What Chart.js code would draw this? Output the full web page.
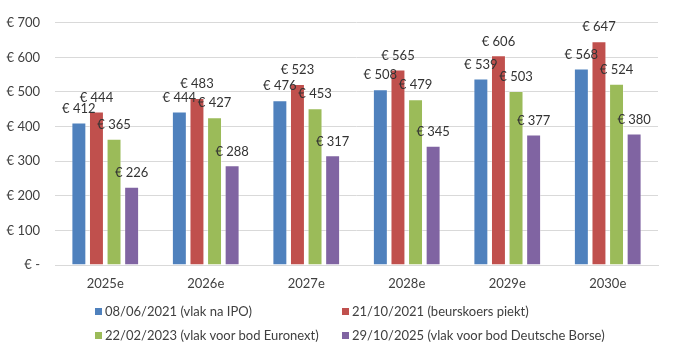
<!DOCTYPE html>
<html>
<head>
<meta charset="utf-8">
<script src="https://cdn.jsdelivr.net/npm/chart.js@4"></script>
<style>
  body { margin: 0; background: #fff; }
  #wrap { position: relative; width: 674px; height: 353px; }
  #legend { position: absolute; left: 0; top: 0; width: 674px; height: 353px; pointer-events: none;
            font-family: Lato, "Noto Sans", sans-serif; font-size: 13px; color: #404040; }
  .item { position: absolute; white-space: nowrap; line-height: 16px; }
  .item span.box { display: inline-block; width: 7px; height: 7px; margin-right: 3px; vertical-align: 1px; }
</style>
</head>
<body>
<div id="wrap">
  <canvas id="myChart" width="674" height="353"></canvas>
  <div id="legend"></div>
</div>
<script>
// categories and series
const years = ['2025e', '2026e', '2027e', '2028e', '2029e', '2030e'];
const seriesNames = [
  '08/06/2021 (vlak na IPO)',
  '21/10/2021 (beurskoers piekt)',
  '22/02/2023 (vlak voor bod Euronext)',
  '29/10/2025 (vlak voor bod Deutsche Borse)'
];
const ipo2021 = [412, 444, 476, 508, 539, 568];
const peak2021 = [444, 483, 523, 565, 606, 647];
const euronext2023 = [365, 427, 453, 479, 503, 524];
const deutsche2025 = [226, 288, 317, 345, 377, 380];
const yTicks = [0, 100, 200, 300, 400, 500, 600, 700];

const colors = ['#4F81BD', '#C0504D', '#9BBB59', '#8064A2'];
const fontFam = 'Lato, "Noto Sans", sans-serif';

// draw "€ xxx" above every bar
const valueLabels = {
  id: 'valueLabels',
  afterDatasetsDraw(chart) {
    const ctx = chart.ctx;
    ctx.save();
    ctx.font = '13px ' + fontFam;
    ctx.fillStyle = '#333';
    ctx.textAlign = 'center';
    ctx.textBaseline = 'middle';
    chart.data.datasets.forEach(function(ds, i) {
      chart.getDatasetMeta(i).data.forEach(function(bar, j) {
        ctx.fillText('€ ' + ds.data[j], bar.x, bar.y - 14);
      });
    });
    ctx.restore();
  }
};

const allData = [ipo2021, peak2021, euronext2023, deutsche2025];

const myChart = new Chart(document.getElementById('myChart'), {
  type: 'bar',
  data: {
    labels: years,
    datasets: allData.map(function(d, i) {
      return {
        label: seriesNames[i],
        data: d,
        backgroundColor: colors[i],
        borderColor: 'rgba(255,255,255,0.35)',
        borderWidth: 1,
        categoryPercentage: 0.7,
        barPercentage: 0.85
      };
    })
  },
  options: {
    responsive: false,
    animation: false,
    layout: { padding: { top: 13, right: 16, bottom: 58, left: 0 } },
    plugins: {
      legend: { display: false },
      tooltip: { enabled: false }
    },
    scales: {
      x: {
        grid: { display: false, drawTicks: false },
        border: { color: '#D9D9D9' },
        ticks: { color: '#404040', font: { family: fontFam, size: 13 }, padding: 11 },
        afterFit: function(s) { s.height = 30; }
      },
      y: {
        min: 0,
        max: 700,
        afterBuildTicks: function(s) { s.ticks = yTicks.map(function(v) { return { value: v }; }); },
        grid: { color: '#D9D9D9', drawTicks: false },
        border: { display: false },
        ticks: {
          color: '#404040',
          font: { family: fontFam, size: 13 },
          padding: 15,
          callback: function(v) { return v === 0 ? '€ -' : '€ ' + v; }
        },
        afterFit: function(s) { s.width = 55; }
      }
    }
  },
  plugins: [valueLabels]
});

// two-column legend under the chart
const legendPos = [[95, 303], [342, 303], [95, 327], [342, 327]];
const legendEl = document.getElementById('legend');
myChart.data.datasets.forEach(function(ds, i) {
  const div = document.createElement('div');
  div.className = 'item';
  div.style.left = legendPos[i][0] + 'px';
  div.style.top = legendPos[i][1] + 'px';
  div.innerHTML = '<span class="box" style="background:' + ds.backgroundColor + '"></span>';
  div.appendChild(document.createTextNode(ds.label));
  legendEl.appendChild(div);
});
</script>
</body>
</html>
